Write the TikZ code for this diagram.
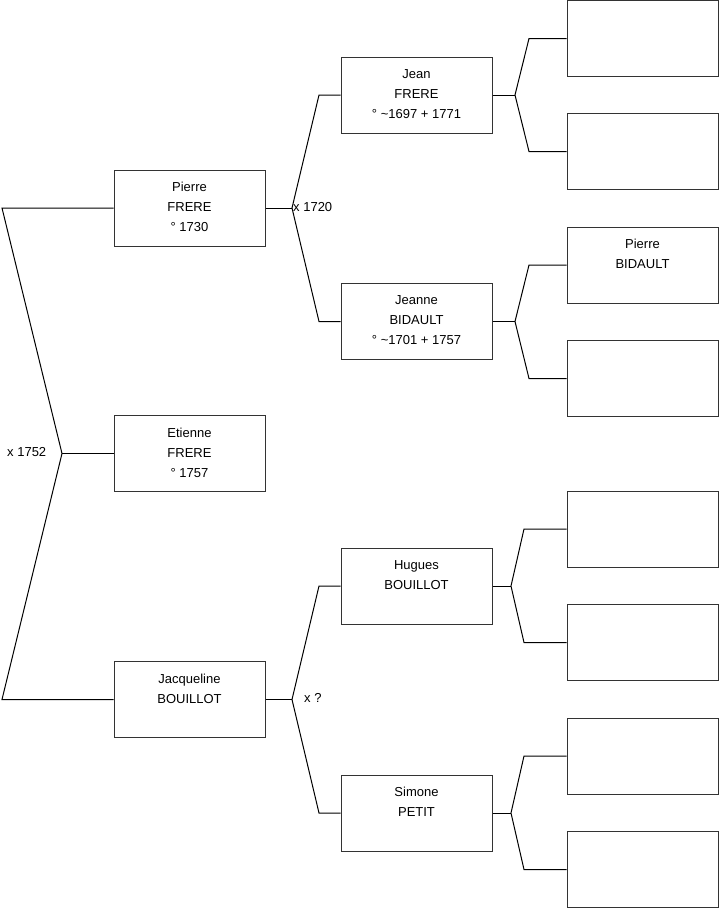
\documentclass[tikz,border=0pt]{standalone}
\usepackage{fontspec}
\setmainfont{Liberation Sans}
\begin{document}
\begin{tikzpicture}[x=1pt,y=-1pt,
  box/.style={draw=black!80,line width=1pt,minimum width=151pt,minimum height=76pt,inner sep=0pt},
  txt/.style={anchor=north,inner sep=0pt,align=center,font=\fontsize{13}{20}\selectfont},
  lbl/.style={anchor=west,inner sep=0pt,font=\fontsize{13}{15}\selectfont},
  conn/.style={draw=black,line width=1pt,line join=miter}]
\useasboundingbox (0,0) rectangle (719,908);
% boxes generation 1
\node[box] (pierre) at (189.5,208) {};
\node[box] (etienne) at (189.5,453.5) {};
\node[box] (jacq) at (189.5,699.5) {};
% generation 2
\node[box] (jean) at (416.5,95) {};
\node[box] (jeanne) at (416.5,321.5) {};
\node[box] (hugues) at (416.5,586) {};
\node[box] (simone) at (416.5,813) {};
% generation 3
\node[box] (r1) at (642.5,38.5) {};
\node[box] (r2) at (642.5,151.5) {};
\node[box] (r3) at (642.5,265) {};
\node[box] (r4) at (642.5,378.5) {};
\node[box] (r5) at (642.5,529) {};
\node[box] (r6) at (642.5,642.5) {};
\node[box] (r7) at (642.5,756) {};
\node[box] (r8) at (642.5,869.5) {};
% texts
\node[txt] (tpierre) at ([yshift=-12.5pt]pierre.north) {Pierre\\FRERE\\° 1730};
\node[txt] (tetienne) at ([yshift=-12.5pt]etienne.north) {Etienne\\FRERE\\° 1757};
\node[txt] (tjacq) at ([yshift=-12.5pt]jacq.north) {Jacqueline\\BOUILLOT};
\node[txt] (tjean) at ([yshift=-12.5pt]jean.north) {Jean\\FRERE\\° \textasciitilde1697 + 1771};
\node[txt] (tjeanne) at ([yshift=-12.5pt]jeanne.north) {Jeanne\\BIDAULT\\° \textasciitilde1701 + 1757};
\node[txt] (thugues) at ([yshift=-12.5pt]hugues.north) {Hugues\\BOUILLOT};
\node[txt] (tsimone) at ([yshift=-12.5pt]simone.north) {Simone\\PETIT};
\node[txt] (tr3) at ([yshift=-12.5pt]r3.north) {Pierre\\BIDAULT};
% fork coordinates
\coordinate (a0) at (62,453.5);
\coordinate (a0t) at (2,208);
\coordinate (a0b) at (2,699.5);
\coordinate (a1) at (292,208);
\coordinate (a1t) at (319,95);
\coordinate (a1b) at (319,321.5);
\coordinate (a2) at (292,699.5);
\coordinate (a2t) at (319,586);
\coordinate (a2b) at (319,813);
\coordinate (b1) at (515,95);
\coordinate (b1t) at (529,38.5);
\coordinate (b1b) at (529,151.5);
\coordinate (b2) at (515,321.5);
\coordinate (b2t) at (529,265);
\coordinate (b2b) at (529,378.5);
\coordinate (b3) at (511,586);
\coordinate (b3t) at (524,529);
\coordinate (b3b) at (524,642.5);
\coordinate (b4) at (511,813);
\coordinate (b4t) at (524,756);
\coordinate (b4b) at (524,869.5);
% connectors
\draw[conn] (pierre.west) -- (a0t) -- (a0) -- (a0b) -- (jacq.west);
\draw[conn] (a0) -- (etienne.west);
\draw[conn] (pierre.east) -- (a1);
\draw[conn] (jean.west) -- (a1t) -- (a1) -- (a1b) -- (jeanne.west);
\draw[conn] (jacq.east) -- (a2);
\draw[conn] (hugues.west) -- (a2t) -- (a2) -- (a2b) -- (simone.west);
\draw[conn] (jean.east) -- (b1);
\draw[conn] (r1.west) -- (b1t) -- (b1) -- (b1b) -- (r2.west);
\draw[conn] (jeanne.east) -- (b2);
\draw[conn] (r3.west) -- (b2t) -- (b2) -- (b2b) -- (r4.west);
\draw[conn] (hugues.east) -- (b3);
\draw[conn] (r5.west) -- (b3t) -- (b3) -- (b3b) -- (r6.west);
\draw[conn] (simone.east) -- (b4);
\draw[conn] (r7.west) -- (b4t) -- (b4) -- (b4b) -- (r8.west);
% labels
\node[lbl] (m0) at (7,452) {x 1752};
\node[lbl] (m1) at (293,207) {x 1720};
\node[lbl] (m2) at (304,698) {x ?};
\end{tikzpicture}
\end{document}
